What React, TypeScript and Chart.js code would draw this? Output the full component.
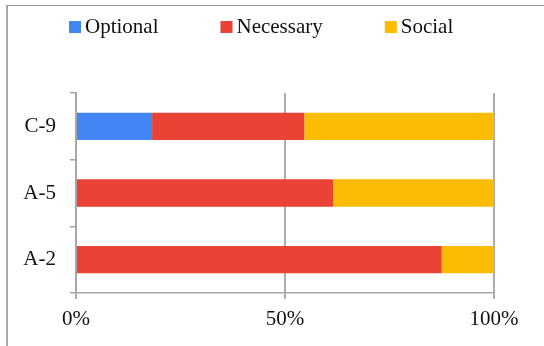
import React, { useEffect, useRef } from "react";
import { Chart, registerables } from "chart.js";

Chart.register(...registerables);

const categories = ["C-9", "A-5", "A-2"];
const optionalValues = [18.2, 0, 0];
const necessaryValues = [36.4, 61.5, 87.5];
const socialValues = [45.4, 38.5, 12.5];
const xTicks = [0, 50, 100];

const FONT = '"Liberation Serif", "Times New Roman", serif';

const framePlugin = {
  id: "frame",
  beforeDraw(chart: any) {
    const ctx = chart.ctx;
    ctx.save();
    ctx.fillStyle = "#ffffff";
    ctx.fillRect(0, 0, chart.width, chart.height);
    ctx.fillStyle = "#a9a9a9";
    ctx.fillRect(6, 5, 2, chart.height - 5);
    ctx.fillStyle = "#9a9a9a";
    ctx.fillRect(6, 5, chart.width - 6, 1);
    ctx.restore();
  },
};

const legendPlugin = {
  id: "customLegend",
  afterDraw(chart: any) {
    const ctx = chart.ctx;
    ctx.save();
    ctx.font = `21px ${FONT}`;
    ctx.textBaseline = "middle";
    ctx.textAlign = "left";
    let x = 69;
    chart.data.datasets.forEach((ds: any) => {
      ctx.fillStyle = ds.backgroundColor;
      ctx.fillRect(x, 21, 12, 12);
      ctx.fillStyle = "#111111";
      ctx.fillText(ds.label, x + 16, 27);
      x += 16 + ctx.measureText(ds.label).width + 62;
    });
    ctx.restore();
  },
};

export default function App() {
  const ref = useRef<HTMLCanvasElement>(null);
  useEffect(() => {
    if (!ref.current) return;
    const chart = new Chart(ref.current, {
      type: "bar",
      data: {
        labels: categories,
        datasets: [
          { label: "Optional", data: optionalValues, backgroundColor: "#4285f4" },
          { label: "Necessary", data: necessaryValues, backgroundColor: "#ea4335" },
          { label: "Social", data: socialValues, backgroundColor: "#fbbc04" },
        ],
      },
      options: {
        indexAxis: "y",
        responsive: false,
        animation: false,
        events: [],
        layout: { padding: { top: 93, right: 50, bottom: 0, left: 0 } },
        datasets: { bar: { barPercentage: 0.41, categoryPercentage: 1 } },
        plugins: { legend: { display: false }, tooltip: { enabled: false } },
        scales: {
          x: {
            stacked: true,
            min: 0,
            max: 100,
            afterBuildTicks(scale: any) {
              scale.ticks = xTicks.map((v) => ({ value: v }));
            },
            afterFit(scale: any) {
              scale.height = 53;
            },
            grid: { color: "#acacac", lineWidth: 2, tickLength: 6, drawTicks: true },
            border: { color: "#a6a6a6", width: 1.5 },
            ticks: {
              padding: 8,
              color: "#111111",
              font: { family: FONT, size: 21 },
              callback: (v: any) => `${v}%`,
              maxRotation: 0,
            },
          },
          y: {
            stacked: true,
            afterFit(scale: any) {
              scale.width = 76;
            },
            grid: { drawOnChartArea: false, color: "#a6a6a6", lineWidth: 1.5, tickLength: 6, offset: true },
            border: { color: "#a6a6a6", width: 2 },
            ticks: { padding: 14, color: "#111111", font: { family: FONT, size: 21 } },
          },
        },
      },
      plugins: [framePlugin, legendPlugin],
    } as any);
    return () => chart.destroy();
  }, []);
  return (
    <div style={{ position: "fixed", left: 0, top: 0, width: 544, height: 346 }}>
      <canvas ref={ref} width={544} height={346} style={{ display: "block" }} />
    </div>
  );
}
